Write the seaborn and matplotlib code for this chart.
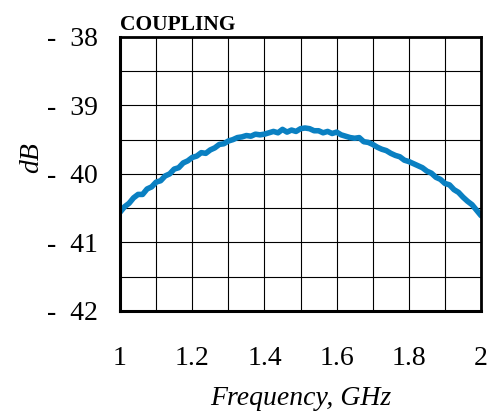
import matplotlib
matplotlib.use("Agg")
import matplotlib.pyplot as plt
import matplotlib.ticker as mticker
import seaborn as sns
import pandas as pd

freq = [1.0000, 1.0125, 1.0250, 1.0375, 1.0500, 1.0625, 1.0750, 1.0875, 1.1000,
        1.1125, 1.1250, 1.1375, 1.1500, 1.1625, 1.1750, 1.1875, 1.2000,
        1.2125, 1.2250, 1.2375, 1.2500, 1.2625, 1.2750, 1.2875, 1.3000,
        1.3125, 1.3250, 1.3375, 1.3500, 1.3625, 1.3750, 1.3875, 1.4000,
        1.4125, 1.4250, 1.4375, 1.4500, 1.4625, 1.4750, 1.4875, 1.5000,
        1.5125, 1.5250, 1.5375, 1.5500, 1.5625, 1.5750, 1.5875, 1.6000,
        1.6125, 1.6250, 1.6375, 1.6500, 1.6625, 1.6750, 1.6875, 1.7000,
        1.7125, 1.7250, 1.7375, 1.7500, 1.7625, 1.7750, 1.7875, 1.8000,
        1.8125, 1.8250, 1.8375, 1.8500, 1.8625, 1.8750, 1.8875, 1.9000,
        1.9125, 1.9250, 1.9375, 1.9500, 1.9625, 1.9750, 1.9875, 2.0000]
coupling = [-40.56, -40.48, -40.43, -40.35, -40.30, -40.30, -40.22, -40.19, -40.12,
            -40.10, -40.03, -40.00, -39.93, -39.91, -39.84, -39.81, -39.76,
            -39.74, -39.69, -39.70, -39.65, -39.62, -39.57, -39.56, -39.52,
            -39.50, -39.47, -39.46, -39.44, -39.45, -39.42, -39.43, -39.42,
            -39.40, -39.38, -39.40, -39.35, -39.39, -39.36, -39.38, -39.34,
            -39.33, -39.34, -39.37, -39.37, -39.40, -39.38, -39.41, -39.39,
            -39.43, -39.45, -39.47, -39.48, -39.47, -39.53, -39.54, -39.57,
            -39.61, -39.64, -39.66, -39.70, -39.73, -39.75, -39.80, -39.82,
            -39.85, -39.88, -39.91, -39.96, -39.99, -40.05, -40.08, -40.14,
            -40.16, -40.23, -40.27, -40.34, -40.40, -40.45, -40.53, -40.61]

df = pd.DataFrame({"freq": freq, "db": coupling})

sns.set_style("white")
plt.rcParams["font.family"] = ["Liberation Serif", "DejaVu Serif"]
plt.rcParams["text.color"] = "black"
plt.rcParams["axes.labelcolor"] = "black"
plt.rcParams["xtick.color"] = "black"
plt.rcParams["ytick.color"] = "black"

fig = plt.figure(figsize=(4.98, 4.15), dpi=100)
ax = fig.add_axes([0.241, 0.251, 0.725, 0.660])

sns.lineplot(data=df, x="freq", y="db", ax=ax, color="#0A80C2", linewidth=4)

ax.set_xlim(1, 2)
ax.set_ylim(-42, -38)
ax.xaxis.set_major_locator(mticker.MultipleLocator(0.2))
ax.xaxis.set_minor_locator(mticker.MultipleLocator(0.1))
ax.yaxis.set_major_locator(mticker.MultipleLocator(1))
ax.yaxis.set_minor_locator(mticker.MultipleLocator(0.5))
ax.xaxis.set_major_formatter(mticker.FuncFormatter(lambda v, p: f"{v:g}"))
ax.yaxis.set_major_formatter(mticker.FuncFormatter(lambda v, p: f"-  {abs(v):.0f}"))

ax.grid(True, which="both", color="black", linewidth=0.8)
ax.tick_params(axis="both", which="major", direction="out", length=7, width=2,
               labelsize=20)
ax.tick_params(axis="y", which="major", pad=9)
ax.tick_params(axis="x", which="major", pad=18)
ax.tick_params(axis="both", which="minor", length=0)

for side in ["left", "bottom"]:
    ax.spines[side].set_linewidth(2.2)
    ax.spines[side].set_color("black")
for side in ["top", "right"]:
    ax.spines[side].set_linewidth(2.0)
    ax.spines[side].set_color("black")

ax.set_xlabel("Frequency, GHz", fontsize=20, style="italic", labelpad=11)
ax.set_ylabel("dB", fontsize=20, style="italic", labelpad=2, y=0.56)
ax.set_title("COUPLING", fontsize=15.5, fontweight="bold", loc="left", pad=5)

fig.savefig("out.png", dpi=100)
